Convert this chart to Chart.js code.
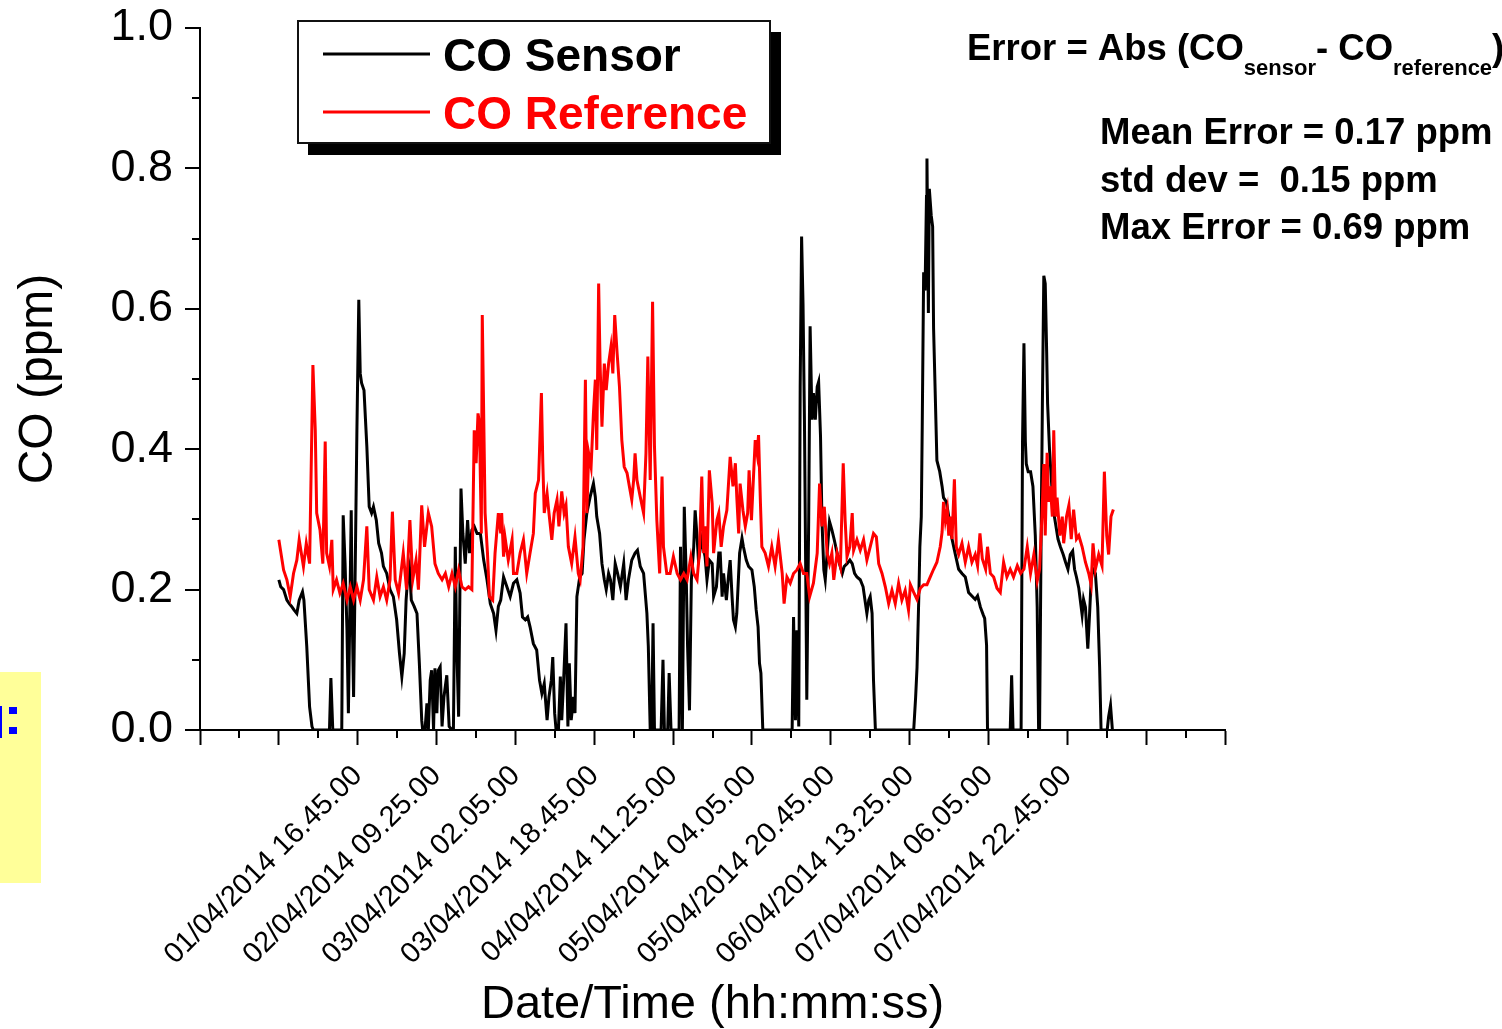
<!DOCTYPE html>
<html>
<head>
<meta charset="UTF-8">
<title>CO Sensor vs CO Reference</title>
<script src="https://cdn.jsdelivr.net/npm/chart.js"></script>
<style>
  body { margin: 0; background: #fff; }
  canvas { display: block; }
</style>
</head>
<body>
<canvas id="coChart" width="1502" height="1029"></canvas>
<script>
// [hours since 01/04/2014 00.05, CO ppm]
const sensorCO = [
  [0.0,0.214],[0.4,0.204],[1.0,0.2],[1.7,0.185],[2.2,0.18],[2.7,0.176],[3.2,0.171],[3.8,0.166],[4.3,0.185],[5.0,0.197],
  [5.3,0.185],[5.9,0.119],[6.5,0.033],[7.0,0.005],[7.3,0],[10.7,0],[11.0,0.074],[11.4,0],[13.3,0],[13.6,0.306],
  [14.0,0.237],[14.4,0.142],[14.7,0.024],[15.1,0.214],[15.3,0.313],[15.5,0.166],[15.8,0.047],[16.2,0.261],[16.5,0.427],[16.9,0.613],
  [17.2,0.508],[17.5,0.494],[18.0,0.484],[18.6,0.404],[19.1,0.318],[19.6,0.309],[20.0,0.318],[20.6,0.299],[21.1,0.266],[21.7,0.252],
  [22.1,0.233],[22.8,0.223],[23.5,0.2],[24.2,0.19],[24.9,0.157],[25.5,0.109],[26.0,0.076],[26.5,0.109],[26.9,0.185],[27.3,0.223],
  [27.6,0.233],[28.0,0.185],[28.6,0.176],[29.2,0.166],[29.7,0.095],[30.2,0.014],[30.4,0],[30.9,0],[31.3,0.038],[31.6,0],
  [32.0,0.071],[32.3,0.085],[32.7,0],[33.0,0.088],[33.4,0.024],[33.7,0.085],[34.1,0.09],[34.5,0.005],[34.9,0.047],[35.5,0.078],
  [36.0,0.005],[36.6,0],[36.9,0],[37.3,0.261],[37.6,0.119],[38.0,0.019],[38.5,0.344],[38.9,0.28],[39.4,0.237],[39.9,0.299],
  [40.3,0.252],[40.8,0.285],[41.3,0.29],[41.9,0.28],[42.6,0.28],[43.3,0.242],[44.0,0.214],[44.7,0.18],[45.4,0.166],[45.9,0.142],
  [46.4,0.176],[46.9,0.185],[47.5,0.218],[48.2,0.204],[48.9,0.19],[49.6,0.209],[50.3,0.214],[51.0,0.195],[51.5,0.161],[52.1,0.157],
  [52.6,0.161],[53.1,0.147],[53.8,0.123],[54.5,0.114],[55.1,0.071],[55.6,0.052],[56.1,0.066],[56.7,0.014],[57.1,0.047],[57.6,0.071],
  [57.9,0.104],[58.3,0.024],[58.6,0],[59.1,0],[59.5,0.076],[59.8,0.014],[60.2,0.071],[60.7,0.152],[61.1,0.005],[61.4,0.095],
  [61.8,0.014],[62.3,0.047],[62.6,0.024],[63.0,0.19],[63.6,0.218],[64.1,0.223],[64.5,0.271],[65.1,0.309],[65.8,0.332],[66.5,0.351],
  [66.9,0.332],[67.2,0.304],[67.8,0.28],[68.3,0.237],[68.8,0.214],[69.2,0.2],[69.7,0.223],[70.1,0.214],[70.6,0.185],[71.1,0.237],
  [71.6,0.223],[72.2,0.204],[72.9,0.237],[73.4,0.185],[73.9,0.214],[74.6,0.242],[75.3,0.252],[75.8,0.256],[76.4,0.233],[77.1,0.223],
  [77.8,0.166],[78.1,0.119],[78.5,0],[78.8,0],[79.1,0.152],[79.4,0],[80.8,0],[81.2,0.1],[81.5,0],[82.2,0],
  [82.5,0.081],[82.9,0],[84.6,0],[84.9,0.261],[85.1,0.142],[85.3,0],[85.7,0.318],[86.1,0.223],[86.4,0.119],[86.8,0.028],
  [87.2,0.214],[87.7,0.261],[88.0,0.313],[88.4,0.275],[88.7,0.242],[89.4,0.271],[90.1,0.247],[90.5,0.214],[91.0,0.242],[91.6,0.237],
  [91.9,0.19],[92.5,0.204],[93.0,0.252],[93.3,0.252],[93.7,0.19],[94.0,0.223],[94.6,0.185],[95.1,0.223],[95.4,0.242],[95.8,0.19],
  [96.1,0.157],[96.5,0.147],[96.8,0.166],[97.4,0.252],[97.9,0.273],[98.2,0.261],[98.8,0.242],[99.3,0.233],[100.0,0.228],[100.5,0.204],
  [100.9,0.171],[101.3,0.147],[101.6,0.095],[101.9,0.081],[102.3,0],[108.5,0],[108.8,0.161],[109.2,0.014],[109.5,0.142],[109.9,0.005],
  [110.2,0.489],[110.5,0.703],[110.8,0.608],[111.1,0.442],[111.4,0.204],[111.6,0.043],[112.0,0.299],[112.3,0.575],[112.7,0.442],[113.0,0.48],
  [113.4,0.442],[113.8,0.489],[114.1,0.496],[114.5,0.418],[114.8,0.299],[115.2,0.228],[115.5,0.214],[115.9,0.252],[116.4,0.297],[116.9,0.285],
  [117.4,0.271],[118.0,0.252],[118.5,0.237],[119.1,0.223],[119.5,0.233],[120.1,0.237],[120.7,0.242],[121.2,0.237],[121.7,0.223],[122.2,0.218],
  [122.9,0.214],[123.5,0.204],[124.0,0.18],[124.3,0.166],[124.7,0.185],[125.0,0.19],[125.4,0.166],[125.7,0.071],[126.1,0],[134.2,0],
  [134.6,0.046],[134.9,0.089],[135.3,0.196],[135.5,0.261],[135.8,0.304],[136.0,0.432],[136.3,0.652],[136.6,0.626],[136.9,0.76],[137.0,0.814],
  [137.3,0.594],[137.5,0.771],[137.9,0.733],[138.2,0.717],[138.4,0.572],[138.8,0.465],[139.1,0.384],[139.7,0.368],[140.2,0.347],[140.5,0.331],
  [141.1,0.325],[141.6,0.304],[142.3,0.272],[143.0,0.25],[143.7,0.229],[144.4,0.223],[145.1,0.218],[145.8,0.196],[146.5,0.191],[147.2,0.186],
  [147.7,0.191],[148.3,0.175],[148.9,0.164],[149.2,0.159],[149.6,0.121],[149.8,0],[154.6,0],[154.9,0.078],[155.2,0],[156.9,0],
  [157.2,0.411],[157.5,0.551],[157.8,0.411],[158.0,0.379],[158.4,0.368],[158.9,0.368],[159.4,0.347],[159.9,0.277],[160.3,0.175],[160.6,0],
  [160.8,0],[161.1,0.25],[161.4,0.465],[161.7,0.647],[162.0,0.636],[162.3,0.539],[162.5,0.465],[162.9,0.4],[163.3,0.357],[163.7,0.314],
  [164.2,0.293],[164.7,0.272],[165.2,0.261],[165.8,0.25],[166.3,0.239],[166.8,0.229],[167.3,0.25],[167.8,0.255],[168.2,0.229],[168.6,0.218],
  [169.1,0.202],[169.5,0.18],[169.8,0.164],[170.1,0.186],[170.5,0.175],[171.0,0.116],[171.4,0.169],[171.7,0.213],[172.1,0.229],[172.6,0.223],
  [173.1,0.175],[173.5,0.089],[173.8,0],[175.1,0],[175.4,0.019],[175.8,0.035],[176.2,0]
];

const referenceCO = [
  [0.0,0.271],[1.0,0.228],[1.7,0.214],[2.4,0.19],[3.1,0.223],[3.8,0.242],[4.3,0.271],[5.2,0.233],[5.8,0.266],[6.5,0.237],
  [7.2,0.52],[7.7,0.427],[8.0,0.309],[8.7,0.285],[9.3,0.237],[9.8,0.411],[10.1,0.252],[10.7,0.233],[11.2,0.271],[11.5,0.2],
  [12.2,0.214],[12.9,0.195],[13.6,0.209],[14.4,0.185],[15.1,0.204],[15.8,0.185],[16.5,0.204],[17.2,0.185],[17.9,0.214],[18.6,0.29],
  [19.1,0.2],[20.0,0.185],[20.7,0.218],[21.4,0.19],[22.1,0.204],[22.8,0.185],[23.5,0.214],[24.0,0.311],[24.6,0.214],[25.3,0.195],
  [25.8,0.223],[26.3,0.252],[27.0,0.2],[27.7,0.299],[28.3,0.214],[29.0,0.242],[29.5,0.2],[30.2,0.32],[30.8,0.261],[31.6,0.309],
  [32.3,0.29],[33.0,0.237],[33.7,0.223],[34.5,0.214],[35.2,0.223],[35.9,0.204],[36.6,0.223],[37.3,0.204],[38.0,0.228],[38.7,0.204],
  [39.4,0.2],[40.1,0.204],[40.8,0.2],[41.3,0.427],[41.7,0.38],[42.1,0.451],[42.4,0.437],[42.8,0.28],[43.0,0.591],[43.6,0.309],
  [44.1,0.252],[44.5,0.19],[45.2,0.185],[45.7,0.252],[46.4,0.309],[46.9,0.28],[47.1,0.309],[47.5,0.247],[47.8,0.275],[48.5,0.242],
  [49.3,0.271],[49.6,0.223],[50.3,0.223],[51.0,0.252],[51.7,0.271],[52.4,0.223],[53.1,0.252],[53.8,0.28],[54.2,0.337],[54.9,0.356],
  [55.5,0.48],[55.8,0.38],[56.1,0.309],[56.7,0.337],[57.1,0.309],[57.7,0.271],[58.2,0.309],[58.8,0.328],[59.2,0.29],[59.8,0.34],
  [60.3,0.309],[60.7,0.32],[61.2,0.261],[61.9,0.237],[62.6,0.275],[63.3,0.223],[63.7,0.214],[64.3,0.261],[64.8,0.499],[65.1,0.309],
  [65.5,0.394],[66.0,0.375],[66.5,0.451],[66.9,0.499],[67.2,0.399],[67.6,0.636],[67.9,0.522],[68.3,0.432],[68.8,0.522],[69.2,0.484],
  [69.7,0.522],[70.2,0.546],[70.6,0.508],[71.0,0.591],[71.5,0.537],[72.0,0.489],[72.5,0.413],[73.0,0.375],[73.6,0.366],[74.1,0.347],
  [74.6,0.328],[75.0,0.356],[75.3,0.394],[75.7,0.356],[76.4,0.332],[77.1,0.309],[77.6,0.394],[78.0,0.532],[78.5,0.356],[79.0,0.61],
  [79.4,0.404],[79.9,0.299],[80.5,0.223],[81.0,0.361],[81.3,0.261],[82.0,0.223],[82.7,0.223],[83.4,0.247],[84.2,0.223],[84.9,0.214],
  [85.6,0.223],[86.3,0.214],[87.1,0.247],[87.7,0.223],[88.4,0.214],[88.9,0.252],[89.4,0.361],[89.8,0.252],[90.1,0.29],[90.5,0.233],
  [91.0,0.37],[91.6,0.323],[91.9,0.252],[92.6,0.299],[93.0,0.309],[93.5,0.261],[94.0,0.29],[94.7,0.313],[95.4,0.389],[96.0,0.347],
  [96.5,0.38],[96.8,0.332],[97.2,0.28],[97.5,0.351],[98.1,0.313],[98.6,0.29],[99.1,0.309],[99.4,0.37],[99.9,0.299],[100.2,0.342],
  [100.7,0.413],[101.1,0.394],[101.4,0.42],[101.8,0.323],[102.1,0.261],[102.8,0.252],[103.5,0.233],[104.2,0.261],[104.9,0.233],[105.6,0.271],
  [106.4,0.223],[106.8,0.18],[107.4,0.218],[108.1,0.209],[108.8,0.223],[109.5,0.228],[110.2,0.237],[110.9,0.223],[111.6,0.223],[112.2,0.19],
  [113.0,0.209],[113.8,0.252],[114.3,0.351],[114.8,0.29],[115.3,0.318],[115.9,0.252],[116.4,0.237],[116.9,0.252],[117.3,0.214],[118.0,0.252],
  [118.7,0.233],[119.3,0.38],[119.7,0.299],[120.1,0.247],[120.7,0.261],[121.2,0.309],[121.5,0.256],[122.2,0.271],[122.9,0.256],[123.6,0.271],
  [124.3,0.242],[125.0,0.261],[125.7,0.28],[126.3,0.275],[126.8,0.237],[127.5,0.223],[128.2,0.204],[128.9,0.18],[129.6,0.199],[130.3,0.18],
  [131.0,0.209],[131.7,0.185],[132.4,0.199],[133.1,0.171],[133.5,0.207],[134.2,0.196],[134.9,0.186],[135.6,0.202],[136.3,0.207],[137.0,0.207],
  [137.7,0.218],[138.4,0.229],[139.1,0.239],[139.8,0.261],[140.2,0.282],[140.5,0.325],[140.9,0.298],[141.3,0.314],[141.6,0.277],[142.0,0.304],
  [142.3,0.272],[142.8,0.357],[143.2,0.261],[143.7,0.25],[144.4,0.266],[145.1,0.239],[145.8,0.261],[146.5,0.239],[147.2,0.25],[147.7,0.234],
  [148.2,0.28],[148.7,0.244],[149.4,0.229],[149.8,0.261],[150.4,0.223],[151.1,0.218],[151.8,0.202],[152.5,0.196],[153.2,0.239],[153.9,0.218],
  [154.6,0.229],[155.3,0.218],[156.1,0.234],[156.8,0.223],[157.5,0.229],[158.2,0.261],[158.9,0.223],[159.6,0.25],[160.3,0.212],[160.8,0.229],
  [161.3,0.304],[161.7,0.379],[162.0,0.277],[162.4,0.395],[162.7,0.325],[163.1,0.347],[163.5,0.304],[163.8,0.427],[164.2,0.304],[164.5,0.331],
  [165.1,0.277],[165.6,0.304],[165.9,0.266],[166.5,0.304],[167.0,0.32],[167.5,0.272],[168.0,0.314],[168.6,0.272],[169.1,0.277],[169.8,0.261],
  [170.5,0.239],[171.2,0.223],[171.7,0.207],[172.1,0.266],[172.6,0.229],[173.3,0.25],[174.0,0.234],[174.5,0.368],[175.0,0.277],[175.4,0.25],
  [175.9,0.304],[176.4,0.314]
];

// labelled major ticks, every 1000 min from 1000 min after the first sample
const tickLabels = [
  '01/04/2014 16.45.00', '02/04/2014 09.25.00', '03/04/2014 02.05.00', '03/04/2014 18.45.00', '04/04/2014 11.25.00',
  '05/04/2014 04.05.00', '05/04/2014 20.45.00', '06/04/2014 13.25.00', '07/04/2014 06.05.00', '07/04/2014 22.45.00'
];
const statLines = ['Mean Error = 0.17 ppm', 'std dev =  0.15 ppm', 'Max Error = 0.69 ppm'];

const FONT = "'Liberation Sans', Arial, sans-serif";
const toPoints = arr => arr.map(([h, v]) => ({ x: h * 60, y: v }));
const isMajorX = v => v % 1000 === 0;
const isMajorY = v => Math.round(v * 10) % 2 === 0;

// x minor ticks and all y ticks (major 15px, minor 8px), placed by the scales
const axisTicks = {
  id: 'axisTicks',
  afterDraw(chart) {
    const c = chart.ctx;
    const xs = chart.scales.x, ys = chart.scales.y;
    c.save();
    c.strokeStyle = '#000';
    c.lineWidth = 2;
    xs.ticks.forEach(t => {
      if (isMajorX(t.value)) return;
      const px = Math.round(xs.getPixelForValue(t.value));
      c.beginPath(); c.moveTo(px, xs.top); c.lineTo(px, xs.top + 8); c.stroke();
    });
    ys.ticks.forEach(t => {
      const py = Math.round(ys.getPixelForValue(t.value));
      const len = isMajorY(t.value) ? 15 : 8;
      c.beginPath(); c.moveTo(ys.right, py); c.lineTo(ys.right - len, py); c.stroke();
    });
    c.restore();
  }
};

// boxed legend with drop shadow, plus the error text block
const extras = {
  id: 'extras',
  afterDraw(chart) {
    const c = chart.ctx;
    c.save();
    // legend
    c.fillStyle = '#000';
    c.fillRect(308, 32, 473, 123);
    c.fillStyle = '#fff';
    c.fillRect(298, 21, 472, 122);
    c.strokeStyle = '#111';
    c.lineWidth = 2;
    c.strokeRect(298, 21, 472, 122);
    chart.data.datasets.forEach((ds, i) => {
      const y = 54 + i * 58;
      c.strokeStyle = ds.borderColor;
      c.lineWidth = 3;
      c.beginPath(); c.moveTo(323, y); c.lineTo(430, y); c.stroke();
      c.fillStyle = ds.borderColor;
      c.font = 'bold 46px ' + FONT;
      c.textBaseline = 'alphabetic';
      c.fillText(ds.label, 443, y + 17);
    });

    // error formula with subscripts
    c.fillStyle = '#000';
    let x = 967;
    const big = 'bold 36.5px ' + FONT, small = 'bold 22px ' + FONT;
    [['Error = Abs (CO', big, 60], ['sensor', small, 75], ['- CO', big, 60], ['reference', small, 75], [')', big, 60]]
      .forEach(([txt, f, base]) => {
        c.font = f;
        c.fillText(txt, x, base);
        x += c.measureText(txt).width;
      });

    c.font = 'bold 36.5px ' + FONT;
    statLines.forEach((s, i) => c.fillText(s, 1100, 144 + i * 47.5));

    // cropped side panel at the left edge
    c.fillStyle = '#ffff99';
    c.fillRect(0, 672, 41, 211);
    c.fillStyle = '#0000ff';
    c.fillRect(0, 706, 2, 32);
    c.fillRect(9, 707, 8, 7);
    c.fillRect(9, 727, 8, 7);
    c.restore();
  }
};

new Chart(document.getElementById('coChart'), {
  type: 'line',
  data: {
    datasets: [
      { label: 'CO Sensor', data: toPoints(sensorCO), borderColor: '#000000', borderWidth: 3,
        pointRadius: 0, tension: 0, fill: false, order: 2 },
      { label: 'CO Reference', data: toPoints(referenceCO), borderColor: '#ff0000', borderWidth: 3,
        pointRadius: 0, tension: 0, fill: false, order: 1 }
    ]
  },
  options: {
    responsive: false,
    animation: false,
    layout: { padding: { left: 0, top: 28, right: 277, bottom: 0 } },
    plugins: { legend: { display: false }, tooltip: { enabled: false } },
    scales: {
      x: {
        type: 'linear',
        min: -1000,
        max: 12000,
        afterFit: s => { s.height = 299; },
        border: { display: true, color: '#000', width: 2 },
        grid: {
          drawOnChartArea: false,
          drawTicks: true,
          tickLength: 15,
          tickWidth: 2,
          tickColor: ctx => (ctx.tick && isMajorX(ctx.tick.value) ? '#000' : 'rgba(0,0,0,0)')
        },
        ticks: {
          stepSize: 500,
          autoSkip: false,
          minRotation: 45,
          maxRotation: 45,
          padding: 14,
          color: '#000',
          font: { family: FONT, size: 29 },
          callback: v => (isMajorX(v) && v >= 1000 && v <= 10000 ? tickLabels[v / 1000 - 1] : '')
        },
        title: {
          display: true,
          text: 'Date/Time (hh:mm:ss)',
          color: '#000',
          font: { family: FONT, size: 47, lineHeight: 1 },
          padding: { top: 0, bottom: 0 }
        }
      },
      y: {
        min: 0,
        max: 1,
        afterFit: s => { s.width = 200; },
        border: { display: true, color: '#000', width: 2 },
        grid: {
          drawOnChartArea: false,
          drawTicks: true,
          tickLength: 24,
          tickColor: 'rgba(0,0,0,0)'
        },
        ticks: {
          stepSize: 0.1,
          padding: 3,
          color: '#000',
          font: { family: FONT, size: 45, lineHeight: 1 },
          callback: v => (isMajorY(v) ? v.toFixed(1) : '')
        },
        title: {
          display: true,
          text: 'CO (ppm)',
          color: '#000',
          font: { family: FONT, size: 48 },
          padding: { top: 10, bottom: 0 }
        }
      }
    }
  },
  plugins: [axisTicks, extras]
});
</script>
</body>
</html>
